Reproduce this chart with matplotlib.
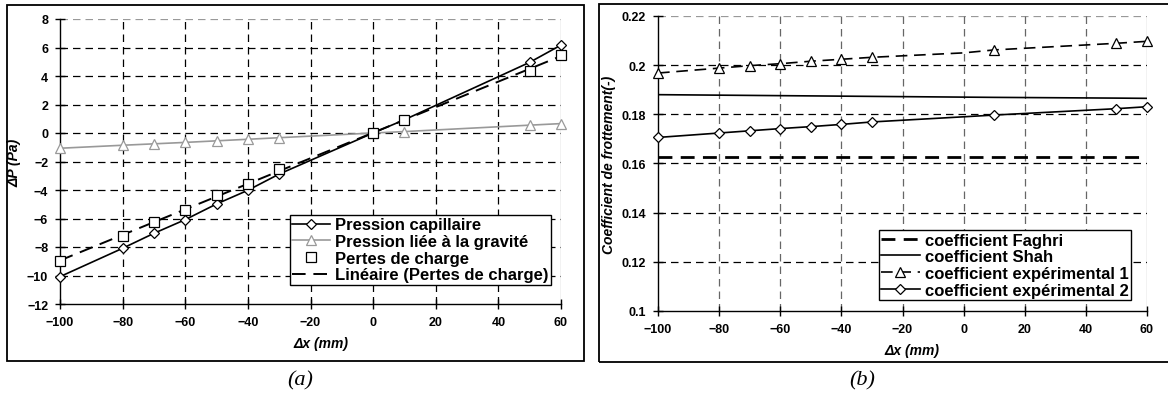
import numpy as np
import matplotlib
matplotlib.use('Agg')
import matplotlib.pyplot as plt
from matplotlib.patches import Rectangle

plt.rcParams['font.family'] = ['Liberation Sans', 'DejaVu Sans']

# ---------------- data (a)
dx = [-100, -80, -70, -60, -50, -40, -30, 0, 10, 50, 60]
p_capillaire = [-10.08, -8.09, -7.04, -6.08, -4.98, -4.02, -2.88, 0.0, 0.93, 4.96, 6.17]
p_gravite = [-1.07, -0.86, -0.76, -0.66, -0.55, -0.44, -0.33, 0.0, 0.1, 0.55, 0.66]
pertes_charge = [-9.0, -7.2, -6.25, -5.42, -4.38, -3.55, -2.5, 0.0, 0.93, 4.37, 5.45]

# ---------------- data (b)
c_faghri = [0.1628] * len(dx)
c_shah = [0.1880, 0.1878, 0.1877, 0.1876, 0.1875, 0.1874, 0.1873, 0.1870, 0.1869, 0.1866, 0.1865]
c_exp1 = [0.1968, 0.1988, 0.1998, 0.2006, 0.2016, 0.2024, 0.2032, 0.2050, 0.2062, 0.2089, 0.2097]
c_exp2 = [0.1706, 0.1724, 0.1733, 0.1742, 0.1750, 0.1759, 0.1769, 0.1790, 0.1797, 0.1823, 0.1831]
# the x=0 point has no marker on the (b) curves
mark_b = [0, 1, 2, 3, 4, 5, 6, 8, 9, 10]

xticks = [-100, -80, -60, -40, -20, 0, 20, 40, 60]

fig = plt.figure(figsize=(11.68, 4.14), dpi=100)

# outer frames
fig.patches.append(Rectangle((7 / 1168, 1 - 362 / 414), 577 / 1168, 356 / 414,
                             transform=fig.transFigure, fill=False, ec='black', lw=1.3))
fig.patches.append(Rectangle((599 / 1168, 1 - 363 / 414), 575 / 1168, 358 / 414,
                             transform=fig.transFigure, fill=False, ec='black', lw=1.3))


def style_axes(ax, ymin, ymax, ystep, ylab, hcol, vcol):
    ax.set_xlim(-100, 60)
    ax.set_ylim(ymin, ymax)
    ax.set_xticks(xticks)
    yt = np.arange(ymin, ymax + ystep / 2, ystep)
    ax.set_yticks(yt)
    for spine in ['top', 'right']:
        ax.spines[spine].set_visible(False)
    for spine in ['left', 'bottom']:
        ax.spines[spine].set_linewidth(1.0)
    for y in yt[1:]:
        c = '#999999' if y == yt[-1] else hcol
        ax.axhline(y, color=c, ls=(0, (6, 4)), lw=0.9, zorder=0)
    for x in xticks[1:-1]:
        ax.axvline(x, color=vcol, ls=(0, (6, 4)), lw=0.9, zorder=0)
    ax.axvline(60, color='#999999', lw=0.9, zorder=0)
    ax.tick_params(direction='inout', length=7, width=1.0, labelsize=9, pad=5)
    for lab in ax.get_xticklabels() + ax.get_yticklabels():
        lab.set_fontweight('bold')
    ax.set_xlabel('\u0394x (mm)', fontsize=10, fontweight='bold', style='italic',
                  labelpad=6, x=0.52)
    ax.set_ylabel(ylab, fontsize=10, fontweight='bold', style='italic', labelpad=4)


mk = dict(mfc='white', mew=0.9, clip_on=False)

# ---------------- (a)
ax1 = fig.add_axes([60 / 1168, 1 - 305 / 414, 501 / 1168, 285 / 414])
ax1.plot(dx, p_capillaire, color='black', lw=1.2, marker='D', ms=5, mec='black',
         label='Pression capillaire', zorder=4, **mk)
ax1.plot(dx, p_gravite, color='#999999', lw=1.2, marker='^', ms=7, mec='#999999',
         label='Pression liée à la gravité', zorder=3, **mk)
ax1.plot(dx, pertes_charge, ls='none', marker='s', ms=6.5, mec='black',
         label='Pertes de charge', zorder=5, **mk)
coef = np.polyfit(dx, pertes_charge, 1)
xfit = np.array([dx[0], dx[-1]])
ax1.plot(xfit, np.polyval(coef, xfit), color='black', lw=1.4, ls=(0, (7, 4)),
         label='Linéaire (Pertes de charge)', zorder=4)
style_axes(ax1, -12, 8, 2, '\u0394P (Pa)', 'black', 'black')
leg1 = ax1.legend(loc='lower right', bbox_to_anchor=(0.981, 0.067), frameon=True,
                  fancybox=False, edgecolor='black', framealpha=1,
                  prop={'weight': 'bold', 'size': 12}, handlelength=2.3,
                  handletextpad=0.3, borderpad=0.15, labelspacing=0.1,
                  borderaxespad=0)
leg1.get_frame().set_linewidth(1.0)

# ---------------- (b)
ax2 = fig.add_axes([658 / 1168, 1 - 312 / 414, 489 / 1168, 295 / 414])
ax2.plot(dx, c_faghri, color='black', lw=2.0, ls=(0, (5, 3)),
         label='coefficient Faghri', zorder=3)
ax2.plot(dx, c_shah, color='black', lw=1.2, label='coefficient Shah', zorder=3)
ax2.plot(dx, c_exp1, color='black', lw=1.2, ls=(0, (7, 4)), marker='^', ms=7,
         mec='black', markevery=mark_b, label='coefficient expérimental 1',
         zorder=4, **mk)
ax2.plot(dx, c_exp2, color='black', lw=1.2, marker='D', ms=5, mec='black',
         markevery=mark_b, label='coefficient expérimental 2', zorder=4, **mk)
style_axes(ax2, 0.1, 0.22, 0.02, 'Coefficient de frottement(-)', 'black', '#666666')
ax2.set_yticklabels(['0.1', '0.12', '0.14', '0.16', '0.18', '0.2', '0.22'])
for lab in ax2.get_yticklabels():
    lab.set_fontweight('bold')
leg2 = ax2.legend(loc='lower right', bbox_to_anchor=(0.967, 0.037), frameon=True,
                  fancybox=False, edgecolor='black', framealpha=1,
                  prop={'weight': 'bold', 'size': 12}, handlelength=2.3,
                  handletextpad=0.3, borderpad=0.15, labelspacing=0.1,
                  borderaxespad=0)
leg2.get_frame().set_linewidth(1.0)

# panel captions
cap = dict(family=['Liberation Serif', 'DejaVu Serif'], style='italic', fontsize=16,
           ha='center', va='center')
fig.text(300 / 1168, 1 - 381 / 414, '(a)', **cap)
fig.text(862 / 1168, 1 - 381 / 414, '(b)', **cap)

fig.savefig('out.png', dpi=100)
